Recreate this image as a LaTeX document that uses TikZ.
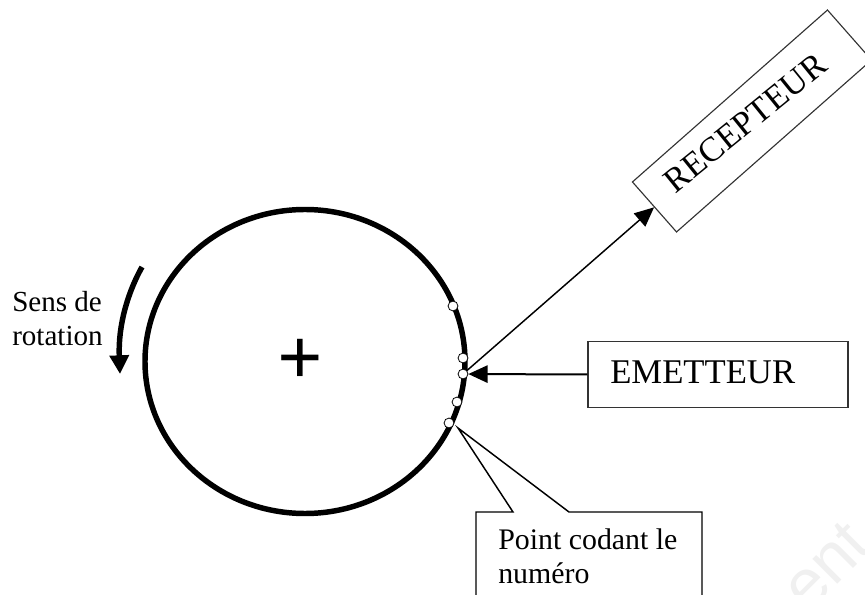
\documentclass[tikz,border=0pt]{standalone}
\usepackage{fontspec}
\setmainfont{Liberation Serif}
\newfontfamily\wmfont{Liberation Sans}
\usetikzlibrary{arrows.meta}
\definecolor{wm}{gray}{0.94}
\tikzset{
  x=0.75pt,y=-0.75pt,
  boxed/.style={draw=black!80,line width=0.85pt,inner sep=0pt},
  ring/.style={draw=black,line width=4.1pt},
  dot/.style={circle,draw=black,line width=0.6pt,fill=white,minimum size=7.4pt,inner sep=0pt},
  ray/.style={draw=black,-{Triangle[length=14.5pt,width=13pt]}},
  lbl/.style={inner sep=0pt,align=left},
}
\begin{document}
\begin{tikzpicture}
\useasboundingbox (0,0) rectangle (865,595);
\clip (0,0) rectangle (865,595);
\node[rotate=45,inner sep=0pt,text=wm] (wmark) at (826,566) {\wmfont\fontsize{50pt}{50pt}\selectfont ent};
\draw[ring] (305,361.5) ellipse [x radius=160,y radius=152];
\node[dot] (p1) at (453,306) {};
\node[dot] (p2) at (463,358) {};
\node[dot] (p3) at (463,374) {};
\node[dot] (p4) at (457,402) {};
\node[dot] (p5) at (449,423) {};
\node[inner sep=0pt] (plus) at (300,362) {\fontsize{60pt}{60pt}\selectfont\bfseries +};
\node[boxed,minimum width=195pt,minimum height=50pt,rotate=41.4] (rec) at (752,121) {};
\node[rotate=39,inner sep=0pt] (rectext) at (745,123) {\fontsize{26pt}{26pt}\selectfont RECEPTEUR};
\node[boxed,minimum width=195pt,minimum height=50pt] (em) at (718,374.5) {};
\node[anchor=base west,inner sep=0pt] (emtext) at (610,384) {\fontsize{26pt}{26pt}\selectfont EMETTEUR};
\draw[ray,line width=1.5pt] (em.west) -- (p3);
\draw[ray,line width=1.1pt] (p3) -- (rec.west);
% callout
\coordinate (tip) at (458,428);
\coordinate (b1) at (513,512);
\coordinate (b2) at (569,512);
\coordinate (tl) at (476,512);
\coordinate (tr) at (702,512);
\coordinate (bl) at (476,596);
\coordinate (br) at (702,596);
\draw[black,line width=1.1pt,line join=miter] (bl) -- (tl) -- (b1) -- (tip) -- (b2) -- (tr) -- (br);
\node[lbl,anchor=base west,font=\fontsize{22.4pt}{26.2pt}\selectfont] (call) at (498,584) {Point codant le\\numéro};
\node[lbl,anchor=base west,font=\fontsize{21.8pt}{25.5pt}\selectfont] (sens) at (12,346) {Sens de\\rotation};
\coordinate (rs) at (142,267);
\coordinate (re) at (120,374);
\draw[draw=black,line width=4.1pt,-{Triangle[length=14pt,width=14pt]}] (rs) .. controls (128,292) and (118,325) .. (re);
\end{tikzpicture}
\end{document}
